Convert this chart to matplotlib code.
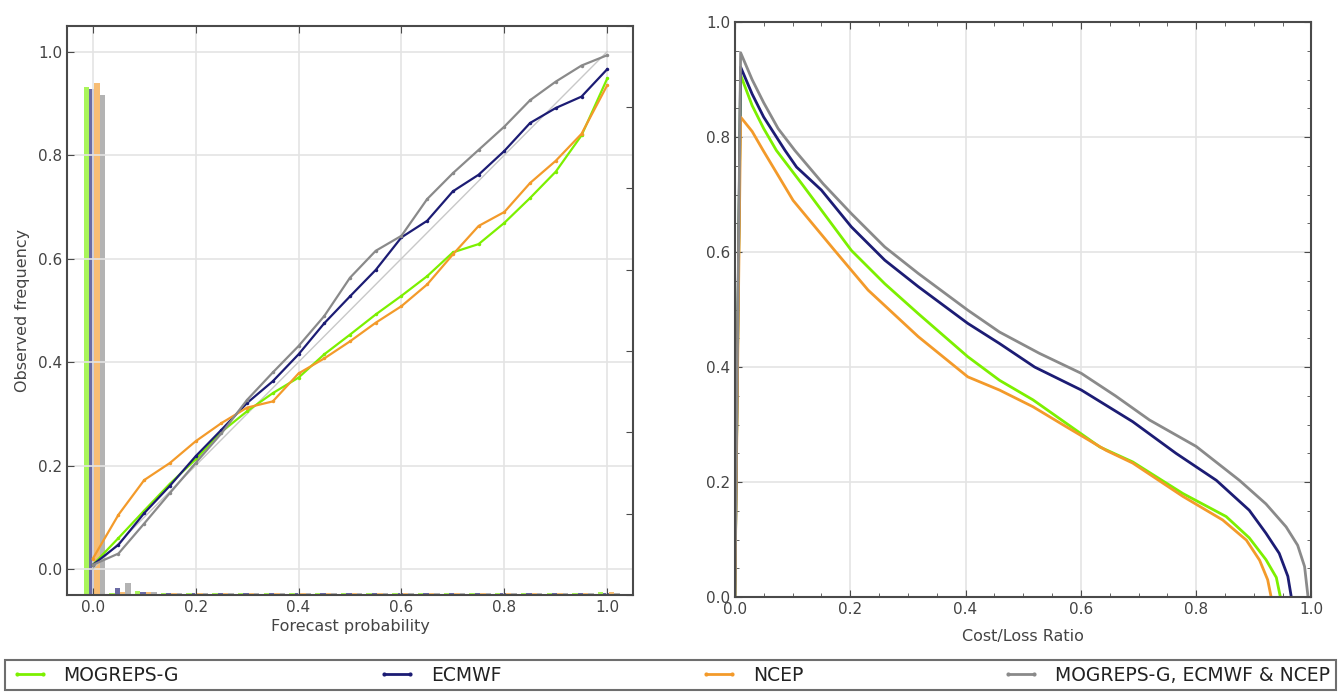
import numpy as np
import matplotlib
matplotlib.use("Agg")
import matplotlib.pyplot as plt
from matplotlib.ticker import MultipleLocator, NullFormatter

# ---- data ----
names = ['MOGREPS-G', 'ECMWF', 'NCEP', 'MOGREPS-G, ECMWF & NCEP']
colors = ['#7cf000', '#1c1c74', '#f39a2a', '#8a8a8a']

# reliability diagram (forecast probability bins)
prob = [0.0, 0.05, 0.1, 0.15, 0.2, 0.25, 0.3, 0.35, 0.4, 0.45, 0.5,
        0.55, 0.6, 0.65, 0.7, 0.75, 0.8, 0.85, 0.9, 0.95, 1.0]
obs_mogreps = [0.008, 0.06, 0.113, 0.165, 0.212, 0.265, 0.305, 0.34, 0.37, 0.415, 0.453,
               0.492, 0.528, 0.566, 0.612, 0.628, 0.669, 0.717, 0.768, 0.838, 0.948]
obs_ecmwf = [0.008, 0.047, 0.108, 0.161, 0.218, 0.269, 0.321, 0.363, 0.415, 0.475, 0.527,
             0.578, 0.641, 0.673, 0.73, 0.762, 0.808, 0.862, 0.891, 0.913, 0.966]
obs_ncep = [0.02, 0.105, 0.172, 0.205, 0.247, 0.282, 0.312, 0.324, 0.378, 0.407, 0.44,
            0.476, 0.508, 0.55, 0.608, 0.663, 0.69, 0.746, 0.789, 0.841, 0.935]
obs_combined = [0.008, 0.03, 0.088, 0.147, 0.205, 0.262, 0.327, 0.38, 0.431, 0.489, 0.563,
                0.615, 0.644, 0.715, 0.765, 0.81, 0.855, 0.906, 0.942, 0.973, 0.993]

# sharpness histogram (fraction of forecasts in each bin)
freq_mogreps = [0.625, 0.002, 0.005, 0.002, 0.002, 0.002, 0.002, 0.002, 0.002, 0.002, 0.002,
                0.002, 0.002, 0.002, 0.002, 0.002, 0.002, 0.002, 0.002, 0.002, 0.004]
freq_ecmwf = [0.622, 0.009, 0.004, 0.002, 0.002, 0.002, 0.002, 0.002, 0.002, 0.002, 0.002,
              0.002, 0.002, 0.002, 0.002, 0.002, 0.002, 0.002, 0.002, 0.002, 0.002]
freq_ncep = [0.63, 0.003, 0.004, 0.002, 0.002, 0.002, 0.002, 0.002, 0.002, 0.002, 0.002,
             0.002, 0.002, 0.002, 0.002, 0.002, 0.002, 0.002, 0.002, 0.002, 0.003]
freq_combined = [0.615, 0.015, 0.003, 0.002, 0.002, 0.002, 0.002, 0.002, 0.002, 0.002, 0.002,
                 0.002, 0.002, 0.002, 0.002, 0.002, 0.002, 0.002, 0.002, 0.002, 0.002]

# relative economic value vs cost/loss ratio
cl_mogreps = [0, 0.01, 0.03, 0.05, 0.072, 0.116, 0.202, 0.26, 0.318, 0.404, 0.459,
              0.517, 0.575, 0.633, 0.69, 0.777, 0.852, 0.892, 0.921, 0.939, 0.946]
val_mogreps = [0, 0.908, 0.855, 0.815, 0.777, 0.719, 0.603, 0.545, 0.493, 0.418, 0.377,
               0.343, 0.302, 0.261, 0.235, 0.18, 0.14, 0.103, 0.065, 0.034, 0.0]
cl_ecmwf = [0, 0.01, 0.03, 0.05, 0.087, 0.107, 0.15, 0.202, 0.26, 0.318, 0.404,
            0.459, 0.52, 0.601, 0.69, 0.765, 0.835, 0.892, 0.921, 0.944, 0.959, 0.965]
val_ecmwf = [0, 0.922, 0.875, 0.835, 0.777, 0.748, 0.708, 0.644, 0.586, 0.54, 0.476,
             0.441, 0.4, 0.36, 0.305, 0.25, 0.203, 0.151, 0.111, 0.076, 0.036, 0.0]
cl_ncep = [0, 0.01, 0.03, 0.049, 0.101, 0.173, 0.231, 0.318, 0.404, 0.459,
           0.517, 0.575, 0.644, 0.69, 0.777, 0.846, 0.887, 0.91, 0.924, 0.93]
val_ncep = [0, 0.835, 0.81, 0.777, 0.69, 0.603, 0.534, 0.453, 0.383, 0.36,
            0.331, 0.296, 0.255, 0.233, 0.175, 0.134, 0.099, 0.064, 0.03, 0.0]
cl_combined = [0, 0.01, 0.03, 0.05, 0.075, 0.104, 0.153, 0.202, 0.26, 0.318, 0.404, 0.459,
               0.528, 0.601, 0.66, 0.719, 0.8, 0.875, 0.921, 0.956, 0.976, 0.988, 0.994]
val_combined = [0, 0.947, 0.9, 0.86, 0.815, 0.777, 0.719, 0.667, 0.609, 0.563, 0.499, 0.461,
                0.424, 0.389, 0.35, 0.308, 0.262, 0.203, 0.162, 0.122, 0.09, 0.053, 0.0]

obs = [obs_mogreps, obs_ecmwf, obs_ncep, obs_combined]
freqs = [freq_mogreps, freq_ecmwf, freq_ncep, freq_combined]
cls = [cl_mogreps, cl_ecmwf, cl_ncep, cl_combined]
vals = [val_mogreps, val_ecmwf, val_ncep, val_combined]

spine_col = '#4a4a4a'
grid_col = '#e4e4e4'
text_col = '#444444'
plt.rcParams['font.family'] = ['DejaVu Sans']


def style_axes(ax):
    for s in ax.spines.values():
        s.set_color(spine_col)
        s.set_linewidth(1.5)
    ax.tick_params(which='both', direction='in', colors=spine_col, labelcolor=text_col,
                   top=True, right=True, labelsize=11)
    ax.tick_params(which='major', length=5)
    ax.tick_params(which='minor', length=3)
    ax.grid(True, color=grid_col, linewidth=1.2)
    ax.set_axisbelow(True)


fig = plt.figure(figsize=(13.41, 6.95), dpi=100)

# ---- left: reliability diagram ----
ax1 = fig.add_axes([0.050, 0.144, 0.422, 0.819])
style_axes(ax1)
ax1.tick_params(right=False)
ax1.set_xlim(-0.05, 1.05)
ax1.set_ylim(-0.05, 1.05)
ax1.xaxis.set_major_locator(MultipleLocator(0.2))
ax1.yaxis.set_major_locator(MultipleLocator(0.2))
ax1.set_xlabel('Forecast probability', color=text_col, fontsize=11.5, labelpad=3)
ax1.set_ylabel('Observed frequency', color=text_col, fontsize=11.5, labelpad=6)

ax2 = ax1.twinx()
ax2.set_ylim(0, 0.7)
ax2.yaxis.set_major_locator(MultipleLocator(0.1))
ax2.yaxis.set_major_formatter(NullFormatter())
ax2.tick_params(direction='in', colors=spine_col, length=5)
for s in ax2.spines.values():
    s.set_visible(False)

bw = 0.0105
for i, (f, c) in enumerate(zip(freqs, colors)):
    xs = np.array(prob) + (i - 1.5) * bw + 0.003
    ax2.bar(xs, f, width=bw, color=c, alpha=0.65, linewidth=0, zorder=1)

ax1.set_zorder(ax2.get_zorder() + 1)
ax1.patch.set_visible(False)
ax1.plot([0, 1], [0, 1], color='#c8c8c8', linewidth=1.0, zorder=2)
for o, c in zip(obs, colors):
    ax1.plot(prob, o, color=c, linewidth=1.6, marker='o', markersize=2.5,
             markeredgewidth=0, zorder=3)

# ---- right: relative economic value ----
ax3 = fig.add_axes([0.548, 0.141, 0.430, 0.827])
style_axes(ax3)
ax3.set_xlim(0, 1)
ax3.set_ylim(0, 1)
ax3.xaxis.set_major_locator(MultipleLocator(0.2))
ax3.yaxis.set_major_locator(MultipleLocator(0.2))
ax3.xaxis.set_minor_locator(MultipleLocator(0.05))
ax3.yaxis.set_minor_locator(MultipleLocator(0.05))
ax3.set_xlabel('Cost/Loss Ratio', color=text_col, fontsize=11.5, labelpad=9)

handles = []
for x, v, c, n in zip(cls, vals, colors, names):
    ax3.plot(x, v, color=c, linewidth=2.0)
    h, = ax3.plot([], [], color=c, linewidth=2.0, marker='o', markersize=3,
                  markeredgewidth=0, label=n)
    handles.append(h)

leg = fig.legend(handles=handles, loc='lower left', bbox_to_anchor=(0.004, 0.007, 0.992, 0.051),
                 mode='expand', ncol=4, numpoints=2, fancybox=False, borderaxespad=0,
                 fontsize=13.5, handlelength=2.0, handletextpad=0.8, borderpad=0.3)
leg.get_frame().set_edgecolor(spine_col)
leg.get_frame().set_linewidth(1.5)
for t in leg.get_texts():
    t.set_color('#222222')

fig.savefig('out.png', dpi=100)
